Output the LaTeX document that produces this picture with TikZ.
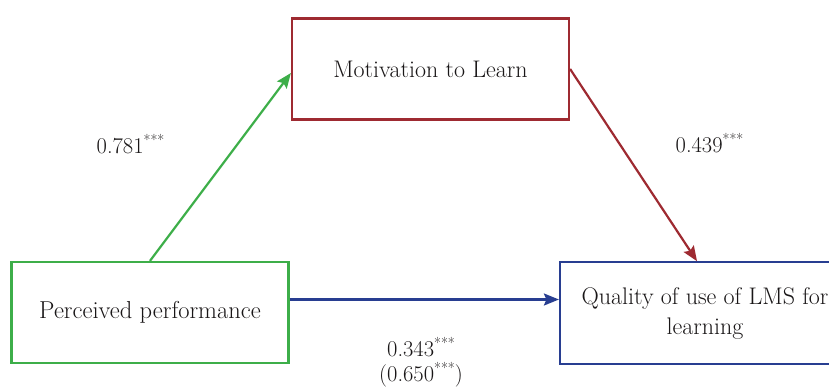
\documentclass[tikz,border=0pt]{standalone}
\usetikzlibrary{arrows.meta,calc}
\definecolor{pgreen}{RGB}{61,174,73}
\definecolor{mred}{RGB}{158,42,49}
\definecolor{qblue}{RGB}{40,62,145}
\definecolor{txt}{RGB}{25,22,23}
\newcommand{\stars}{\raisebox{0.35em}{\fontsize{15}{15}\selectfont ***}}
\begin{document}
\begin{tikzpicture}[x=1pt,y=-1pt,
  boxstyle/.style={draw,line width=2.2pt,inner sep=0pt,text=txt,align=center,
    font=\fontsize{24}{30}\selectfont},
  lbl/.style={text=txt,font=\fontsize{22.5}{25}\selectfont,anchor=base,inner sep=0pt,align=center},
  arr/.style={line width=2.2pt,-{Stealth[length=15pt,width=12pt,inset=2.5pt]}}]
\useasboundingbox (0,0) rectangle (829,386);
\clip (0,0) rectangle (829,386);
\node[boxstyle,draw=mred,minimum width=277pt,minimum height=101pt] (M) at (430.5,69) {Motivation to Learn};
\node[boxstyle,draw=pgreen,minimum width=277pt,minimum height=101pt,font=\fontsize{24.5}{30}\selectfont] (P) at (150,312.5) {Perceived performance};
\node[boxstyle,draw=qblue,minimum width=290pt,minimum height=102pt] (Q) at (705,313.3) {Quality of use of LMS for\\learning};
\draw[arr,pgreen] (P.north) -- ([yshift=-4pt]M.west);
\draw[arr,mred] (M.east) -- ([xshift=-8pt]Q.north);
\draw[arr,qblue] ([yshift=13pt]P.east) coordinate (b1) -- (b1 -| Q.west);
\node[lbl] (l1) at (130.5,153) {0.781\stars};
\node[lbl] (l2) at (709.5,152) {0.439\stars};
\node[lbl] (l3) at (421,356.5) {0.343\stars};
\node[lbl] (l4) at (421,381.5) {(0.650\stars)};
\end{tikzpicture}
\end{document}
